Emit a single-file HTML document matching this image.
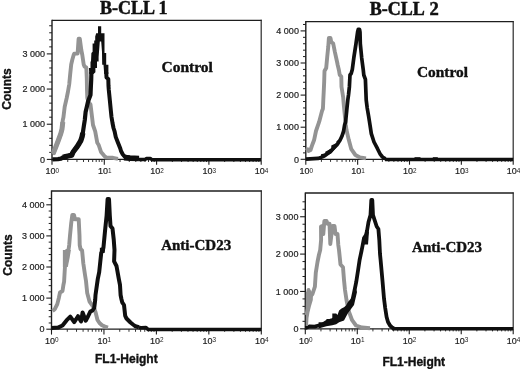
<!DOCTYPE html>
<html><head><meta charset="utf-8"><style>
html,body{margin:0;padding:0;background:#fff;width:520px;height:369px;overflow:hidden}
svg{display:block;will-change:transform}
.s{font-family:"Liberation Sans",sans-serif}
.r{font-family:"Liberation Serif",serif}
</style></head><body>
<svg width="520" height="369" viewBox="0 0 520 369">
<rect width="520" height="369" fill="#fff"/>
<g class="s">
<line x1="52.0" y1="20.3" x2="261.7" y2="20.3" stroke="#1e1e1e" stroke-width="1.3"/>
<line x1="261.2" y1="19.7" x2="261.2" y2="159.4" stroke="#2a2a2a" stroke-width="1.2"/>
<line x1="52.0" y1="19.7" x2="52.0" y2="160.4" stroke="#1e1e1e" stroke-width="1.4"/>
<line x1="52.0" y1="159.4" x2="261.2" y2="159.4" stroke="#1e1e1e" stroke-width="1.2"/>
<line x1="46.8" y1="159.40" x2="52.0" y2="159.40" stroke="#1e1e1e" stroke-width="1.1"/>
<text x="45.10" y="162.60" text-anchor="end" font-size="9" fill="#222" stroke="#222" stroke-width="0.2">0</text>
<line x1="49.2" y1="152.37" x2="52.0" y2="152.37" stroke="#1e1e1e" stroke-width="1"/>
<line x1="49.2" y1="145.33" x2="52.0" y2="145.33" stroke="#1e1e1e" stroke-width="1"/>
<line x1="49.2" y1="138.30" x2="52.0" y2="138.30" stroke="#1e1e1e" stroke-width="1"/>
<line x1="49.2" y1="131.26" x2="52.0" y2="131.26" stroke="#1e1e1e" stroke-width="1"/>
<line x1="46.8" y1="124.23" x2="52.0" y2="124.23" stroke="#1e1e1e" stroke-width="1.1"/>
<text x="45.10" y="127.43" text-anchor="end" font-size="9" fill="#222" stroke="#222" stroke-width="0.2">1 000</text>
<line x1="49.2" y1="117.20" x2="52.0" y2="117.20" stroke="#1e1e1e" stroke-width="1"/>
<line x1="49.2" y1="110.16" x2="52.0" y2="110.16" stroke="#1e1e1e" stroke-width="1"/>
<line x1="49.2" y1="103.13" x2="52.0" y2="103.13" stroke="#1e1e1e" stroke-width="1"/>
<line x1="49.2" y1="96.09" x2="52.0" y2="96.09" stroke="#1e1e1e" stroke-width="1"/>
<line x1="46.8" y1="89.06" x2="52.0" y2="89.06" stroke="#1e1e1e" stroke-width="1.1"/>
<text x="45.10" y="92.26" text-anchor="end" font-size="9" fill="#222" stroke="#222" stroke-width="0.2">2 000</text>
<line x1="49.2" y1="82.03" x2="52.0" y2="82.03" stroke="#1e1e1e" stroke-width="1"/>
<line x1="49.2" y1="74.99" x2="52.0" y2="74.99" stroke="#1e1e1e" stroke-width="1"/>
<line x1="49.2" y1="67.96" x2="52.0" y2="67.96" stroke="#1e1e1e" stroke-width="1"/>
<line x1="49.2" y1="60.92" x2="52.0" y2="60.92" stroke="#1e1e1e" stroke-width="1"/>
<line x1="46.8" y1="53.89" x2="52.0" y2="53.89" stroke="#1e1e1e" stroke-width="1.1"/>
<text x="45.10" y="57.09" text-anchor="end" font-size="9" fill="#222" stroke="#222" stroke-width="0.2">3 000</text>
<line x1="49.2" y1="46.86" x2="52.0" y2="46.86" stroke="#1e1e1e" stroke-width="1"/>
<line x1="49.2" y1="39.82" x2="52.0" y2="39.82" stroke="#1e1e1e" stroke-width="1"/>
<line x1="49.2" y1="32.79" x2="52.0" y2="32.79" stroke="#1e1e1e" stroke-width="1"/>
<line x1="49.2" y1="25.75" x2="52.0" y2="25.75" stroke="#1e1e1e" stroke-width="1"/>
<line x1="52.00" y1="159.4" x2="52.00" y2="164.8" stroke="#1e1e1e" stroke-width="1.1"/>
<text x="50.60" y="174.40" text-anchor="middle" font-size="9" fill="#222" stroke="#222" stroke-width="0.2">10</text>
<text x="55.60" y="172.60" font-size="6.4" fill="#222">0</text>
<line x1="67.74" y1="159.4" x2="67.74" y2="162.0" stroke="#1e1e1e" stroke-width="0.9"/>
<line x1="76.95" y1="159.4" x2="76.95" y2="162.0" stroke="#1e1e1e" stroke-width="0.9"/>
<line x1="83.49" y1="159.4" x2="83.49" y2="162.0" stroke="#1e1e1e" stroke-width="0.9"/>
<line x1="88.56" y1="159.4" x2="88.56" y2="162.0" stroke="#1e1e1e" stroke-width="0.9"/>
<line x1="92.70" y1="159.4" x2="92.70" y2="162.0" stroke="#1e1e1e" stroke-width="0.9"/>
<line x1="96.20" y1="159.4" x2="96.20" y2="162.0" stroke="#1e1e1e" stroke-width="0.9"/>
<line x1="99.23" y1="159.4" x2="99.23" y2="162.0" stroke="#1e1e1e" stroke-width="0.9"/>
<line x1="101.91" y1="159.4" x2="101.91" y2="162.0" stroke="#1e1e1e" stroke-width="0.9"/>
<line x1="104.30" y1="159.4" x2="104.30" y2="164.8" stroke="#1e1e1e" stroke-width="1.1"/>
<text x="102.90" y="174.40" text-anchor="middle" font-size="9" fill="#222" stroke="#222" stroke-width="0.2">10</text>
<text x="107.90" y="172.60" font-size="6.4" fill="#222">1</text>
<line x1="120.04" y1="159.4" x2="120.04" y2="162.0" stroke="#1e1e1e" stroke-width="0.9"/>
<line x1="129.25" y1="159.4" x2="129.25" y2="162.0" stroke="#1e1e1e" stroke-width="0.9"/>
<line x1="135.79" y1="159.4" x2="135.79" y2="162.0" stroke="#1e1e1e" stroke-width="0.9"/>
<line x1="140.86" y1="159.4" x2="140.86" y2="162.0" stroke="#1e1e1e" stroke-width="0.9"/>
<line x1="145.00" y1="159.4" x2="145.00" y2="162.0" stroke="#1e1e1e" stroke-width="0.9"/>
<line x1="148.50" y1="159.4" x2="148.50" y2="162.0" stroke="#1e1e1e" stroke-width="0.9"/>
<line x1="151.53" y1="159.4" x2="151.53" y2="162.0" stroke="#1e1e1e" stroke-width="0.9"/>
<line x1="154.21" y1="159.4" x2="154.21" y2="162.0" stroke="#1e1e1e" stroke-width="0.9"/>
<line x1="156.60" y1="159.4" x2="156.60" y2="164.8" stroke="#1e1e1e" stroke-width="1.1"/>
<text x="155.20" y="174.40" text-anchor="middle" font-size="9" fill="#222" stroke="#222" stroke-width="0.2">10</text>
<text x="160.20" y="172.60" font-size="6.4" fill="#222">2</text>
<line x1="172.34" y1="159.4" x2="172.34" y2="162.0" stroke="#1e1e1e" stroke-width="0.9"/>
<line x1="181.55" y1="159.4" x2="181.55" y2="162.0" stroke="#1e1e1e" stroke-width="0.9"/>
<line x1="188.09" y1="159.4" x2="188.09" y2="162.0" stroke="#1e1e1e" stroke-width="0.9"/>
<line x1="193.16" y1="159.4" x2="193.16" y2="162.0" stroke="#1e1e1e" stroke-width="0.9"/>
<line x1="197.30" y1="159.4" x2="197.30" y2="162.0" stroke="#1e1e1e" stroke-width="0.9"/>
<line x1="200.80" y1="159.4" x2="200.80" y2="162.0" stroke="#1e1e1e" stroke-width="0.9"/>
<line x1="203.83" y1="159.4" x2="203.83" y2="162.0" stroke="#1e1e1e" stroke-width="0.9"/>
<line x1="206.51" y1="159.4" x2="206.51" y2="162.0" stroke="#1e1e1e" stroke-width="0.9"/>
<line x1="208.90" y1="159.4" x2="208.90" y2="164.8" stroke="#1e1e1e" stroke-width="1.1"/>
<text x="207.50" y="174.40" text-anchor="middle" font-size="9" fill="#222" stroke="#222" stroke-width="0.2">10</text>
<text x="212.50" y="172.60" font-size="6.4" fill="#222">3</text>
<line x1="224.64" y1="159.4" x2="224.64" y2="162.0" stroke="#1e1e1e" stroke-width="0.9"/>
<line x1="233.85" y1="159.4" x2="233.85" y2="162.0" stroke="#1e1e1e" stroke-width="0.9"/>
<line x1="240.39" y1="159.4" x2="240.39" y2="162.0" stroke="#1e1e1e" stroke-width="0.9"/>
<line x1="245.46" y1="159.4" x2="245.46" y2="162.0" stroke="#1e1e1e" stroke-width="0.9"/>
<line x1="249.60" y1="159.4" x2="249.60" y2="162.0" stroke="#1e1e1e" stroke-width="0.9"/>
<line x1="253.10" y1="159.4" x2="253.10" y2="162.0" stroke="#1e1e1e" stroke-width="0.9"/>
<line x1="256.13" y1="159.4" x2="256.13" y2="162.0" stroke="#1e1e1e" stroke-width="0.9"/>
<line x1="258.81" y1="159.4" x2="258.81" y2="162.0" stroke="#1e1e1e" stroke-width="0.9"/>
<line x1="261.20" y1="159.4" x2="261.20" y2="164.8" stroke="#1e1e1e" stroke-width="1.1"/>
<text x="259.80" y="174.40" text-anchor="middle" font-size="9" fill="#222" stroke="#222" stroke-width="0.2">10</text>
<text x="264.80" y="172.60" font-size="6.4" fill="#222">4</text>
<line x1="305.8" y1="21.6" x2="513.7" y2="21.6" stroke="#1e1e1e" stroke-width="1.3"/>
<line x1="513.2" y1="21.0" x2="513.2" y2="159.3" stroke="#2a2a2a" stroke-width="1.2"/>
<line x1="305.8" y1="21.0" x2="305.8" y2="160.3" stroke="#1e1e1e" stroke-width="1.4"/>
<line x1="305.8" y1="159.3" x2="513.2" y2="159.3" stroke="#1e1e1e" stroke-width="1.2"/>
<line x1="300.6" y1="159.30" x2="305.8" y2="159.30" stroke="#1e1e1e" stroke-width="1.1"/>
<text x="298.90" y="162.50" text-anchor="end" font-size="9" fill="#222" stroke="#222" stroke-width="0.2">0</text>
<line x1="303.0" y1="152.88" x2="305.8" y2="152.88" stroke="#1e1e1e" stroke-width="1"/>
<line x1="303.0" y1="146.46" x2="305.8" y2="146.46" stroke="#1e1e1e" stroke-width="1"/>
<line x1="303.0" y1="140.04" x2="305.8" y2="140.04" stroke="#1e1e1e" stroke-width="1"/>
<line x1="303.0" y1="133.62" x2="305.8" y2="133.62" stroke="#1e1e1e" stroke-width="1"/>
<line x1="300.6" y1="127.20" x2="305.8" y2="127.20" stroke="#1e1e1e" stroke-width="1.1"/>
<text x="298.90" y="130.40" text-anchor="end" font-size="9" fill="#222" stroke="#222" stroke-width="0.2">1 000</text>
<line x1="303.0" y1="120.78" x2="305.8" y2="120.78" stroke="#1e1e1e" stroke-width="1"/>
<line x1="303.0" y1="114.36" x2="305.8" y2="114.36" stroke="#1e1e1e" stroke-width="1"/>
<line x1="303.0" y1="107.94" x2="305.8" y2="107.94" stroke="#1e1e1e" stroke-width="1"/>
<line x1="303.0" y1="101.52" x2="305.8" y2="101.52" stroke="#1e1e1e" stroke-width="1"/>
<line x1="300.6" y1="95.10" x2="305.8" y2="95.10" stroke="#1e1e1e" stroke-width="1.1"/>
<text x="298.90" y="98.30" text-anchor="end" font-size="9" fill="#222" stroke="#222" stroke-width="0.2">2 000</text>
<line x1="303.0" y1="88.68" x2="305.8" y2="88.68" stroke="#1e1e1e" stroke-width="1"/>
<line x1="303.0" y1="82.26" x2="305.8" y2="82.26" stroke="#1e1e1e" stroke-width="1"/>
<line x1="303.0" y1="75.84" x2="305.8" y2="75.84" stroke="#1e1e1e" stroke-width="1"/>
<line x1="303.0" y1="69.42" x2="305.8" y2="69.42" stroke="#1e1e1e" stroke-width="1"/>
<line x1="300.6" y1="63.00" x2="305.8" y2="63.00" stroke="#1e1e1e" stroke-width="1.1"/>
<text x="298.90" y="66.20" text-anchor="end" font-size="9" fill="#222" stroke="#222" stroke-width="0.2">3 000</text>
<line x1="303.0" y1="56.58" x2="305.8" y2="56.58" stroke="#1e1e1e" stroke-width="1"/>
<line x1="303.0" y1="50.16" x2="305.8" y2="50.16" stroke="#1e1e1e" stroke-width="1"/>
<line x1="303.0" y1="43.74" x2="305.8" y2="43.74" stroke="#1e1e1e" stroke-width="1"/>
<line x1="303.0" y1="37.32" x2="305.8" y2="37.32" stroke="#1e1e1e" stroke-width="1"/>
<line x1="300.6" y1="30.90" x2="305.8" y2="30.90" stroke="#1e1e1e" stroke-width="1.1"/>
<text x="298.90" y="34.10" text-anchor="end" font-size="9" fill="#222" stroke="#222" stroke-width="0.2">4 000</text>
<line x1="303.0" y1="24.48" x2="305.8" y2="24.48" stroke="#1e1e1e" stroke-width="1"/>
<line x1="305.80" y1="159.3" x2="305.80" y2="164.70000000000002" stroke="#1e1e1e" stroke-width="1.1"/>
<text x="304.40" y="174.30" text-anchor="middle" font-size="9" fill="#222" stroke="#222" stroke-width="0.2">10</text>
<text x="309.40" y="172.50" font-size="6.4" fill="#222">0</text>
<line x1="321.41" y1="159.3" x2="321.41" y2="161.9" stroke="#1e1e1e" stroke-width="0.9"/>
<line x1="330.54" y1="159.3" x2="330.54" y2="161.9" stroke="#1e1e1e" stroke-width="0.9"/>
<line x1="337.02" y1="159.3" x2="337.02" y2="161.9" stroke="#1e1e1e" stroke-width="0.9"/>
<line x1="342.04" y1="159.3" x2="342.04" y2="161.9" stroke="#1e1e1e" stroke-width="0.9"/>
<line x1="346.15" y1="159.3" x2="346.15" y2="161.9" stroke="#1e1e1e" stroke-width="0.9"/>
<line x1="349.62" y1="159.3" x2="349.62" y2="161.9" stroke="#1e1e1e" stroke-width="0.9"/>
<line x1="352.63" y1="159.3" x2="352.63" y2="161.9" stroke="#1e1e1e" stroke-width="0.9"/>
<line x1="355.28" y1="159.3" x2="355.28" y2="161.9" stroke="#1e1e1e" stroke-width="0.9"/>
<line x1="357.65" y1="159.3" x2="357.65" y2="164.70000000000002" stroke="#1e1e1e" stroke-width="1.1"/>
<text x="356.25" y="174.30" text-anchor="middle" font-size="9" fill="#222" stroke="#222" stroke-width="0.2">10</text>
<text x="361.25" y="172.50" font-size="6.4" fill="#222">1</text>
<line x1="373.26" y1="159.3" x2="373.26" y2="161.9" stroke="#1e1e1e" stroke-width="0.9"/>
<line x1="382.39" y1="159.3" x2="382.39" y2="161.9" stroke="#1e1e1e" stroke-width="0.9"/>
<line x1="388.87" y1="159.3" x2="388.87" y2="161.9" stroke="#1e1e1e" stroke-width="0.9"/>
<line x1="393.89" y1="159.3" x2="393.89" y2="161.9" stroke="#1e1e1e" stroke-width="0.9"/>
<line x1="398.00" y1="159.3" x2="398.00" y2="161.9" stroke="#1e1e1e" stroke-width="0.9"/>
<line x1="401.47" y1="159.3" x2="401.47" y2="161.9" stroke="#1e1e1e" stroke-width="0.9"/>
<line x1="404.48" y1="159.3" x2="404.48" y2="161.9" stroke="#1e1e1e" stroke-width="0.9"/>
<line x1="407.13" y1="159.3" x2="407.13" y2="161.9" stroke="#1e1e1e" stroke-width="0.9"/>
<line x1="409.50" y1="159.3" x2="409.50" y2="164.70000000000002" stroke="#1e1e1e" stroke-width="1.1"/>
<text x="408.10" y="174.30" text-anchor="middle" font-size="9" fill="#222" stroke="#222" stroke-width="0.2">10</text>
<text x="413.10" y="172.50" font-size="6.4" fill="#222">2</text>
<line x1="425.11" y1="159.3" x2="425.11" y2="161.9" stroke="#1e1e1e" stroke-width="0.9"/>
<line x1="434.24" y1="159.3" x2="434.24" y2="161.9" stroke="#1e1e1e" stroke-width="0.9"/>
<line x1="440.72" y1="159.3" x2="440.72" y2="161.9" stroke="#1e1e1e" stroke-width="0.9"/>
<line x1="445.74" y1="159.3" x2="445.74" y2="161.9" stroke="#1e1e1e" stroke-width="0.9"/>
<line x1="449.85" y1="159.3" x2="449.85" y2="161.9" stroke="#1e1e1e" stroke-width="0.9"/>
<line x1="453.32" y1="159.3" x2="453.32" y2="161.9" stroke="#1e1e1e" stroke-width="0.9"/>
<line x1="456.33" y1="159.3" x2="456.33" y2="161.9" stroke="#1e1e1e" stroke-width="0.9"/>
<line x1="458.98" y1="159.3" x2="458.98" y2="161.9" stroke="#1e1e1e" stroke-width="0.9"/>
<line x1="461.35" y1="159.3" x2="461.35" y2="164.70000000000002" stroke="#1e1e1e" stroke-width="1.1"/>
<text x="459.95" y="174.30" text-anchor="middle" font-size="9" fill="#222" stroke="#222" stroke-width="0.2">10</text>
<text x="464.95" y="172.50" font-size="6.4" fill="#222">3</text>
<line x1="476.96" y1="159.3" x2="476.96" y2="161.9" stroke="#1e1e1e" stroke-width="0.9"/>
<line x1="486.09" y1="159.3" x2="486.09" y2="161.9" stroke="#1e1e1e" stroke-width="0.9"/>
<line x1="492.57" y1="159.3" x2="492.57" y2="161.9" stroke="#1e1e1e" stroke-width="0.9"/>
<line x1="497.59" y1="159.3" x2="497.59" y2="161.9" stroke="#1e1e1e" stroke-width="0.9"/>
<line x1="501.70" y1="159.3" x2="501.70" y2="161.9" stroke="#1e1e1e" stroke-width="0.9"/>
<line x1="505.17" y1="159.3" x2="505.17" y2="161.9" stroke="#1e1e1e" stroke-width="0.9"/>
<line x1="508.18" y1="159.3" x2="508.18" y2="161.9" stroke="#1e1e1e" stroke-width="0.9"/>
<line x1="510.83" y1="159.3" x2="510.83" y2="161.9" stroke="#1e1e1e" stroke-width="0.9"/>
<line x1="513.20" y1="159.3" x2="513.20" y2="164.70000000000002" stroke="#1e1e1e" stroke-width="1.1"/>
<text x="511.80" y="174.30" text-anchor="middle" font-size="9" fill="#222" stroke="#222" stroke-width="0.2">10</text>
<text x="516.80" y="172.50" font-size="6.4" fill="#222">4</text>
<line x1="51.5" y1="191.0" x2="261.8" y2="191.0" stroke="#1e1e1e" stroke-width="1.3"/>
<line x1="261.3" y1="190.4" x2="261.3" y2="329.2" stroke="#2a2a2a" stroke-width="1.2"/>
<line x1="51.5" y1="190.4" x2="51.5" y2="330.2" stroke="#1e1e1e" stroke-width="1.4"/>
<line x1="51.5" y1="329.2" x2="261.3" y2="329.2" stroke="#1e1e1e" stroke-width="1.2"/>
<line x1="46.3" y1="329.20" x2="51.5" y2="329.20" stroke="#1e1e1e" stroke-width="1.1"/>
<text x="44.60" y="332.40" text-anchor="end" font-size="9" fill="#222" stroke="#222" stroke-width="0.2">0</text>
<line x1="48.7" y1="322.98" x2="51.5" y2="322.98" stroke="#1e1e1e" stroke-width="1"/>
<line x1="48.7" y1="316.76" x2="51.5" y2="316.76" stroke="#1e1e1e" stroke-width="1"/>
<line x1="48.7" y1="310.54" x2="51.5" y2="310.54" stroke="#1e1e1e" stroke-width="1"/>
<line x1="48.7" y1="304.32" x2="51.5" y2="304.32" stroke="#1e1e1e" stroke-width="1"/>
<line x1="46.3" y1="298.10" x2="51.5" y2="298.10" stroke="#1e1e1e" stroke-width="1.1"/>
<text x="44.60" y="301.30" text-anchor="end" font-size="9" fill="#222" stroke="#222" stroke-width="0.2">1 000</text>
<line x1="48.7" y1="291.88" x2="51.5" y2="291.88" stroke="#1e1e1e" stroke-width="1"/>
<line x1="48.7" y1="285.66" x2="51.5" y2="285.66" stroke="#1e1e1e" stroke-width="1"/>
<line x1="48.7" y1="279.44" x2="51.5" y2="279.44" stroke="#1e1e1e" stroke-width="1"/>
<line x1="48.7" y1="273.22" x2="51.5" y2="273.22" stroke="#1e1e1e" stroke-width="1"/>
<line x1="46.3" y1="267.00" x2="51.5" y2="267.00" stroke="#1e1e1e" stroke-width="1.1"/>
<text x="44.60" y="270.20" text-anchor="end" font-size="9" fill="#222" stroke="#222" stroke-width="0.2">2 000</text>
<line x1="48.7" y1="260.78" x2="51.5" y2="260.78" stroke="#1e1e1e" stroke-width="1"/>
<line x1="48.7" y1="254.56" x2="51.5" y2="254.56" stroke="#1e1e1e" stroke-width="1"/>
<line x1="48.7" y1="248.34" x2="51.5" y2="248.34" stroke="#1e1e1e" stroke-width="1"/>
<line x1="48.7" y1="242.12" x2="51.5" y2="242.12" stroke="#1e1e1e" stroke-width="1"/>
<line x1="46.3" y1="235.90" x2="51.5" y2="235.90" stroke="#1e1e1e" stroke-width="1.1"/>
<text x="44.60" y="239.10" text-anchor="end" font-size="9" fill="#222" stroke="#222" stroke-width="0.2">3 000</text>
<line x1="48.7" y1="229.68" x2="51.5" y2="229.68" stroke="#1e1e1e" stroke-width="1"/>
<line x1="48.7" y1="223.46" x2="51.5" y2="223.46" stroke="#1e1e1e" stroke-width="1"/>
<line x1="48.7" y1="217.24" x2="51.5" y2="217.24" stroke="#1e1e1e" stroke-width="1"/>
<line x1="48.7" y1="211.02" x2="51.5" y2="211.02" stroke="#1e1e1e" stroke-width="1"/>
<line x1="46.3" y1="204.80" x2="51.5" y2="204.80" stroke="#1e1e1e" stroke-width="1.1"/>
<text x="44.60" y="208.00" text-anchor="end" font-size="9" fill="#222" stroke="#222" stroke-width="0.2">4 000</text>
<line x1="48.7" y1="198.58" x2="51.5" y2="198.58" stroke="#1e1e1e" stroke-width="1"/>
<line x1="51.50" y1="329.2" x2="51.50" y2="334.59999999999997" stroke="#1e1e1e" stroke-width="1.1"/>
<text x="50.10" y="344.20" text-anchor="middle" font-size="9" fill="#222" stroke="#222" stroke-width="0.2">10</text>
<text x="55.10" y="342.40" font-size="6.4" fill="#222">0</text>
<line x1="67.29" y1="329.2" x2="67.29" y2="331.8" stroke="#1e1e1e" stroke-width="0.9"/>
<line x1="76.53" y1="329.2" x2="76.53" y2="331.8" stroke="#1e1e1e" stroke-width="0.9"/>
<line x1="83.08" y1="329.2" x2="83.08" y2="331.8" stroke="#1e1e1e" stroke-width="0.9"/>
<line x1="88.16" y1="329.2" x2="88.16" y2="331.8" stroke="#1e1e1e" stroke-width="0.9"/>
<line x1="92.31" y1="329.2" x2="92.31" y2="331.8" stroke="#1e1e1e" stroke-width="0.9"/>
<line x1="95.83" y1="329.2" x2="95.83" y2="331.8" stroke="#1e1e1e" stroke-width="0.9"/>
<line x1="98.87" y1="329.2" x2="98.87" y2="331.8" stroke="#1e1e1e" stroke-width="0.9"/>
<line x1="101.55" y1="329.2" x2="101.55" y2="331.8" stroke="#1e1e1e" stroke-width="0.9"/>
<line x1="103.95" y1="329.2" x2="103.95" y2="334.59999999999997" stroke="#1e1e1e" stroke-width="1.1"/>
<text x="102.55" y="344.20" text-anchor="middle" font-size="9" fill="#222" stroke="#222" stroke-width="0.2">10</text>
<text x="107.55" y="342.40" font-size="6.4" fill="#222">1</text>
<line x1="119.74" y1="329.2" x2="119.74" y2="331.8" stroke="#1e1e1e" stroke-width="0.9"/>
<line x1="128.98" y1="329.2" x2="128.98" y2="331.8" stroke="#1e1e1e" stroke-width="0.9"/>
<line x1="135.53" y1="329.2" x2="135.53" y2="331.8" stroke="#1e1e1e" stroke-width="0.9"/>
<line x1="140.61" y1="329.2" x2="140.61" y2="331.8" stroke="#1e1e1e" stroke-width="0.9"/>
<line x1="144.76" y1="329.2" x2="144.76" y2="331.8" stroke="#1e1e1e" stroke-width="0.9"/>
<line x1="148.28" y1="329.2" x2="148.28" y2="331.8" stroke="#1e1e1e" stroke-width="0.9"/>
<line x1="151.32" y1="329.2" x2="151.32" y2="331.8" stroke="#1e1e1e" stroke-width="0.9"/>
<line x1="154.00" y1="329.2" x2="154.00" y2="331.8" stroke="#1e1e1e" stroke-width="0.9"/>
<line x1="156.40" y1="329.2" x2="156.40" y2="334.59999999999997" stroke="#1e1e1e" stroke-width="1.1"/>
<text x="155.00" y="344.20" text-anchor="middle" font-size="9" fill="#222" stroke="#222" stroke-width="0.2">10</text>
<text x="160.00" y="342.40" font-size="6.4" fill="#222">2</text>
<line x1="172.19" y1="329.2" x2="172.19" y2="331.8" stroke="#1e1e1e" stroke-width="0.9"/>
<line x1="181.43" y1="329.2" x2="181.43" y2="331.8" stroke="#1e1e1e" stroke-width="0.9"/>
<line x1="187.98" y1="329.2" x2="187.98" y2="331.8" stroke="#1e1e1e" stroke-width="0.9"/>
<line x1="193.06" y1="329.2" x2="193.06" y2="331.8" stroke="#1e1e1e" stroke-width="0.9"/>
<line x1="197.21" y1="329.2" x2="197.21" y2="331.8" stroke="#1e1e1e" stroke-width="0.9"/>
<line x1="200.73" y1="329.2" x2="200.73" y2="331.8" stroke="#1e1e1e" stroke-width="0.9"/>
<line x1="203.77" y1="329.2" x2="203.77" y2="331.8" stroke="#1e1e1e" stroke-width="0.9"/>
<line x1="206.45" y1="329.2" x2="206.45" y2="331.8" stroke="#1e1e1e" stroke-width="0.9"/>
<line x1="208.85" y1="329.2" x2="208.85" y2="334.59999999999997" stroke="#1e1e1e" stroke-width="1.1"/>
<text x="207.45" y="344.20" text-anchor="middle" font-size="9" fill="#222" stroke="#222" stroke-width="0.2">10</text>
<text x="212.45" y="342.40" font-size="6.4" fill="#222">3</text>
<line x1="224.64" y1="329.2" x2="224.64" y2="331.8" stroke="#1e1e1e" stroke-width="0.9"/>
<line x1="233.88" y1="329.2" x2="233.88" y2="331.8" stroke="#1e1e1e" stroke-width="0.9"/>
<line x1="240.43" y1="329.2" x2="240.43" y2="331.8" stroke="#1e1e1e" stroke-width="0.9"/>
<line x1="245.51" y1="329.2" x2="245.51" y2="331.8" stroke="#1e1e1e" stroke-width="0.9"/>
<line x1="249.66" y1="329.2" x2="249.66" y2="331.8" stroke="#1e1e1e" stroke-width="0.9"/>
<line x1="253.18" y1="329.2" x2="253.18" y2="331.8" stroke="#1e1e1e" stroke-width="0.9"/>
<line x1="256.22" y1="329.2" x2="256.22" y2="331.8" stroke="#1e1e1e" stroke-width="0.9"/>
<line x1="258.90" y1="329.2" x2="258.90" y2="331.8" stroke="#1e1e1e" stroke-width="0.9"/>
<line x1="261.30" y1="329.2" x2="261.30" y2="334.59999999999997" stroke="#1e1e1e" stroke-width="1.1"/>
<text x="259.90" y="344.20" text-anchor="middle" font-size="9" fill="#222" stroke="#222" stroke-width="0.2">10</text>
<text x="264.90" y="342.40" font-size="6.4" fill="#222">4</text>
<line x1="305.3" y1="193.0" x2="513.7" y2="193.0" stroke="#1e1e1e" stroke-width="1.3"/>
<line x1="513.2" y1="192.4" x2="513.2" y2="328.8" stroke="#2a2a2a" stroke-width="1.2"/>
<line x1="305.3" y1="192.4" x2="305.3" y2="329.8" stroke="#1e1e1e" stroke-width="1.4"/>
<line x1="305.3" y1="328.8" x2="513.2" y2="328.8" stroke="#1e1e1e" stroke-width="1.2"/>
<line x1="300.1" y1="328.80" x2="305.3" y2="328.80" stroke="#1e1e1e" stroke-width="1.1"/>
<text x="298.40" y="332.00" text-anchor="end" font-size="9" fill="#222" stroke="#222" stroke-width="0.2">0</text>
<line x1="302.5" y1="321.33" x2="305.3" y2="321.33" stroke="#1e1e1e" stroke-width="1"/>
<line x1="302.5" y1="313.86" x2="305.3" y2="313.86" stroke="#1e1e1e" stroke-width="1"/>
<line x1="302.5" y1="306.39" x2="305.3" y2="306.39" stroke="#1e1e1e" stroke-width="1"/>
<line x1="302.5" y1="298.92" x2="305.3" y2="298.92" stroke="#1e1e1e" stroke-width="1"/>
<line x1="300.1" y1="291.45" x2="305.3" y2="291.45" stroke="#1e1e1e" stroke-width="1.1"/>
<text x="298.40" y="294.65" text-anchor="end" font-size="9" fill="#222" stroke="#222" stroke-width="0.2">1 000</text>
<line x1="302.5" y1="283.98" x2="305.3" y2="283.98" stroke="#1e1e1e" stroke-width="1"/>
<line x1="302.5" y1="276.51" x2="305.3" y2="276.51" stroke="#1e1e1e" stroke-width="1"/>
<line x1="302.5" y1="269.04" x2="305.3" y2="269.04" stroke="#1e1e1e" stroke-width="1"/>
<line x1="302.5" y1="261.57" x2="305.3" y2="261.57" stroke="#1e1e1e" stroke-width="1"/>
<line x1="300.1" y1="254.10" x2="305.3" y2="254.10" stroke="#1e1e1e" stroke-width="1.1"/>
<text x="298.40" y="257.30" text-anchor="end" font-size="9" fill="#222" stroke="#222" stroke-width="0.2">2 000</text>
<line x1="302.5" y1="246.63" x2="305.3" y2="246.63" stroke="#1e1e1e" stroke-width="1"/>
<line x1="302.5" y1="239.16" x2="305.3" y2="239.16" stroke="#1e1e1e" stroke-width="1"/>
<line x1="302.5" y1="231.69" x2="305.3" y2="231.69" stroke="#1e1e1e" stroke-width="1"/>
<line x1="302.5" y1="224.22" x2="305.3" y2="224.22" stroke="#1e1e1e" stroke-width="1"/>
<line x1="300.1" y1="216.75" x2="305.3" y2="216.75" stroke="#1e1e1e" stroke-width="1.1"/>
<text x="298.40" y="219.95" text-anchor="end" font-size="9" fill="#222" stroke="#222" stroke-width="0.2">3 000</text>
<line x1="302.5" y1="209.28" x2="305.3" y2="209.28" stroke="#1e1e1e" stroke-width="1"/>
<line x1="302.5" y1="201.81" x2="305.3" y2="201.81" stroke="#1e1e1e" stroke-width="1"/>
<line x1="305.30" y1="328.8" x2="305.30" y2="334.2" stroke="#1e1e1e" stroke-width="1.1"/>
<text x="303.90" y="343.80" text-anchor="middle" font-size="9" fill="#222" stroke="#222" stroke-width="0.2">10</text>
<text x="308.90" y="342.00" font-size="6.4" fill="#222">0</text>
<line x1="320.95" y1="328.8" x2="320.95" y2="331.40000000000003" stroke="#1e1e1e" stroke-width="0.9"/>
<line x1="330.10" y1="328.8" x2="330.10" y2="331.40000000000003" stroke="#1e1e1e" stroke-width="0.9"/>
<line x1="336.59" y1="328.8" x2="336.59" y2="331.40000000000003" stroke="#1e1e1e" stroke-width="0.9"/>
<line x1="341.63" y1="328.8" x2="341.63" y2="331.40000000000003" stroke="#1e1e1e" stroke-width="0.9"/>
<line x1="345.74" y1="328.8" x2="345.74" y2="331.40000000000003" stroke="#1e1e1e" stroke-width="0.9"/>
<line x1="349.22" y1="328.8" x2="349.22" y2="331.40000000000003" stroke="#1e1e1e" stroke-width="0.9"/>
<line x1="352.24" y1="328.8" x2="352.24" y2="331.40000000000003" stroke="#1e1e1e" stroke-width="0.9"/>
<line x1="354.90" y1="328.8" x2="354.90" y2="331.40000000000003" stroke="#1e1e1e" stroke-width="0.9"/>
<line x1="357.28" y1="328.8" x2="357.28" y2="334.2" stroke="#1e1e1e" stroke-width="1.1"/>
<text x="355.88" y="343.80" text-anchor="middle" font-size="9" fill="#222" stroke="#222" stroke-width="0.2">10</text>
<text x="360.88" y="342.00" font-size="6.4" fill="#222">1</text>
<line x1="372.92" y1="328.8" x2="372.92" y2="331.40000000000003" stroke="#1e1e1e" stroke-width="0.9"/>
<line x1="382.07" y1="328.8" x2="382.07" y2="331.40000000000003" stroke="#1e1e1e" stroke-width="0.9"/>
<line x1="388.57" y1="328.8" x2="388.57" y2="331.40000000000003" stroke="#1e1e1e" stroke-width="0.9"/>
<line x1="393.60" y1="328.8" x2="393.60" y2="331.40000000000003" stroke="#1e1e1e" stroke-width="0.9"/>
<line x1="397.72" y1="328.8" x2="397.72" y2="331.40000000000003" stroke="#1e1e1e" stroke-width="0.9"/>
<line x1="401.20" y1="328.8" x2="401.20" y2="331.40000000000003" stroke="#1e1e1e" stroke-width="0.9"/>
<line x1="404.21" y1="328.8" x2="404.21" y2="331.40000000000003" stroke="#1e1e1e" stroke-width="0.9"/>
<line x1="406.87" y1="328.8" x2="406.87" y2="331.40000000000003" stroke="#1e1e1e" stroke-width="0.9"/>
<line x1="409.25" y1="328.8" x2="409.25" y2="334.2" stroke="#1e1e1e" stroke-width="1.1"/>
<text x="407.85" y="343.80" text-anchor="middle" font-size="9" fill="#222" stroke="#222" stroke-width="0.2">10</text>
<text x="412.85" y="342.00" font-size="6.4" fill="#222">2</text>
<line x1="424.90" y1="328.8" x2="424.90" y2="331.40000000000003" stroke="#1e1e1e" stroke-width="0.9"/>
<line x1="434.05" y1="328.8" x2="434.05" y2="331.40000000000003" stroke="#1e1e1e" stroke-width="0.9"/>
<line x1="440.54" y1="328.8" x2="440.54" y2="331.40000000000003" stroke="#1e1e1e" stroke-width="0.9"/>
<line x1="445.58" y1="328.8" x2="445.58" y2="331.40000000000003" stroke="#1e1e1e" stroke-width="0.9"/>
<line x1="449.69" y1="328.8" x2="449.69" y2="331.40000000000003" stroke="#1e1e1e" stroke-width="0.9"/>
<line x1="453.17" y1="328.8" x2="453.17" y2="331.40000000000003" stroke="#1e1e1e" stroke-width="0.9"/>
<line x1="456.19" y1="328.8" x2="456.19" y2="331.40000000000003" stroke="#1e1e1e" stroke-width="0.9"/>
<line x1="458.85" y1="328.8" x2="458.85" y2="331.40000000000003" stroke="#1e1e1e" stroke-width="0.9"/>
<line x1="461.23" y1="328.8" x2="461.23" y2="334.2" stroke="#1e1e1e" stroke-width="1.1"/>
<text x="459.83" y="343.80" text-anchor="middle" font-size="9" fill="#222" stroke="#222" stroke-width="0.2">10</text>
<text x="464.83" y="342.00" font-size="6.4" fill="#222">3</text>
<line x1="476.87" y1="328.8" x2="476.87" y2="331.40000000000003" stroke="#1e1e1e" stroke-width="0.9"/>
<line x1="486.02" y1="328.8" x2="486.02" y2="331.40000000000003" stroke="#1e1e1e" stroke-width="0.9"/>
<line x1="492.52" y1="328.8" x2="492.52" y2="331.40000000000003" stroke="#1e1e1e" stroke-width="0.9"/>
<line x1="497.55" y1="328.8" x2="497.55" y2="331.40000000000003" stroke="#1e1e1e" stroke-width="0.9"/>
<line x1="501.67" y1="328.8" x2="501.67" y2="331.40000000000003" stroke="#1e1e1e" stroke-width="0.9"/>
<line x1="505.15" y1="328.8" x2="505.15" y2="331.40000000000003" stroke="#1e1e1e" stroke-width="0.9"/>
<line x1="508.16" y1="328.8" x2="508.16" y2="331.40000000000003" stroke="#1e1e1e" stroke-width="0.9"/>
<line x1="510.82" y1="328.8" x2="510.82" y2="331.40000000000003" stroke="#1e1e1e" stroke-width="0.9"/>
<line x1="513.20" y1="328.8" x2="513.20" y2="334.2" stroke="#1e1e1e" stroke-width="1.1"/>
<text x="511.80" y="343.80" text-anchor="middle" font-size="9" fill="#222" stroke="#222" stroke-width="0.2">10</text>
<text x="516.80" y="342.00" font-size="6.4" fill="#222">4</text>
<polyline points="52.8,154 53.4,153 55.7,147.3 58.3,140.5 60.8,133.7 62,129.1 62.8,122" fill="none" stroke="#939393" stroke-width="5.0" stroke-linejoin="round"/>
<polyline points="52.5,153.5 53.4,153 55.7,147.3 58.3,140.5 60.8,133.7 62,129.1 62.8,120 63.4,117.5 64.7,106.7 66.7,98 68,91.5 69.1,85 69.3,83.5 70.2,74 71.2,64.5 72.3,59.7 73.5,55.5 74.2,53.6 77.6,53.6 78.6,38.8 79.8,38.8 81.3,50 82.3,55 83.7,64.5 84.5,66.5 86.3,67.5 86.8,78.7 87,90 87.3,98 88.5,102 90.5,104.5 92.1,117.5 93,125 95.2,131.4 97.3,142.8 98.7,145 101,151.9 103.8,155.3 106,157.5 113,157.8 118,158.8" fill="none" stroke="#939393" stroke-width="3.9" stroke-linejoin="round"/>
<polyline points="52.5,159.3 58,159.1 61,158.6 63,157.4 65.6,156.6 68,156 71.7,155.2 72.6,153 73.5,151.5 75,149.5 77,146.9 79,143.8 80.8,140.6 82,137 82.8,133 84,125 84.8,120 85.6,112.1 86.8,107 88.1,101.3 90.5,95 90.8,88 91.2,80 91.4,72" fill="none" stroke="#0f0f0f" stroke-width="4.2" stroke-linejoin="round"/>
<polyline points="63,157.4 65.6,156.6 68,156 71.7,155.2 72.6,153 73.5,151.5 75,149.5 77,146.9 79,143.8 80.8,140.6 82,137 82.8,133" fill="none" stroke="#0f0f0f" stroke-width="5.3" stroke-linejoin="round"/>
<polyline points="106.2,72 106.5,77.5 108.3,79 108.5,86 108.8,90 109.8,100 110.8,110.3 111.5,117 112.5,123 113.5,128 114.6,131.4 115.8,137.1 118,142.8 120.3,148.5 121,151 122.7,154.2 124.6,156.5 130,158 139,158.4" fill="none" stroke="#0f0f0f" stroke-width="4.0" stroke-linejoin="round"/>
<polyline points="124,157.6 130,158.1 139,158.5" fill="none" stroke="#0f0f0f" stroke-width="5.6" stroke-linejoin="round"/>
<polyline points="139,159.4 145,159.4 146.5,158.5 150.5,158.5 152,159.8 261,159.8" fill="none" stroke="#0f0f0f" stroke-width="3.5" stroke-linejoin="round"/>
<polygon points="98,26.3 98,33.3 96.2,33.3 95.2,36.4 95.2,40.5 94.2,40.5 94.2,43.6 92.6,43.6 92.6,51.8 91.4,53 91,61.5 90.5,61.5 90.5,68 88.9,68 89.3,74 93.6,74 95.4,72.3 95.4,68 97,68 97,61.5 98.6,61.5 98.6,57 99.8,41.5 101.2,41.5 102,52 102.2,64.8 103.5,64.8 104.2,74 108.4,74 108.4,64.8 106.2,64.8 106.2,52.9 104.5,52.9 104.5,33.3 101.2,33.3 101.2,26.3" fill="#0f0f0f"/>
<polyline points="306.5,148 308.5,151 310.5,150 312.5,144.2 314.2,139.7 316,131 319.2,121.7 322,111 322.9,108.7 323.1,105 323.3,100 323.7,92.1 324.2,81.3 324.5,71 326.2,68 327.2,57.1 328.3,46.3 328.9,38 330.5,38 331.2,41.9 333.2,43.5 334.8,51.7 337.2,62.5 337.7,65 338.9,70 339.7,74.8 341.3,76.5 341.5,86.7 343.2,97.5 343.8,105 344.8,115 345.8,125 346.5,130 348.7,139.6 351.3,149.2 355.4,155 360,157.4 366,158.4" fill="none" stroke="#939393" stroke-width="3.9" stroke-linejoin="round"/>
<polyline points="306,159.2 314,158.7 318,158.4 321,157.4 323,156.5 325.3,155.3 328,153.2 331.3,150.5 334,147.8 336.5,145.3 338,143.3 340,140.3 342,136 343.6,131 344.6,125 345.6,121.7 346.7,110.8 347.8,100 348.5,95 349.4,86.7 350,75 351.2,73.5 352.3,69.4 353.8,57.9 356,43.6 357.6,32 358.3,29.3 359.5,29.3 360,32 360.3,43.6 361.7,57.9 363.2,69.4 363.8,75 365.4,79.4 366.2,100 367.2,108 368.7,116.8 370,125 371.3,133.6 374,142 377.5,148.7 380,153.8 382.5,157 385.5,158.8" fill="none" stroke="#0f0f0f" stroke-width="3.7" stroke-linejoin="round"/>
<polyline points="385,159.5 513.2,159.5" fill="none" stroke="#0f0f0f" stroke-width="3.6" stroke-linejoin="round"/>
<polyline points="414.5,158.6 420.5,158.6" fill="none" stroke="#0f0f0f" stroke-width="2.8" stroke-linejoin="round"/>
<polyline points="432.8,158.6 437.8,158.6" fill="none" stroke="#0f0f0f" stroke-width="2.8" stroke-linejoin="round"/>
<polygon points="321,154.3 325.3,153.3 325.3,151.7 331.3,148.6 331.3,145.6 336.5,143 336.5,141.3 340,138.7 340,137 343.5,130 345,131 344,135 340,141 336.5,147.3 331.3,153.4 325.3,156 321,158.6" fill="#0f0f0f"/>
<polyline points="52.5,311 54.8,309.2 57.3,304.1 58.9,297.7 60,292.5 62.5,291 63.4,285 64.1,281.6 64.8,269.4 65.5,258 66,251.5 68.5,250 69.2,245 70,235.5 71.2,223.3 72.3,214.9 74,214.9 75,219.2 78.7,219.2 78.9,223.3 79.5,235.5 79.7,245 80.5,249 82.1,250.5 83.3,263.3 85.1,275.5 86,281 86.7,288 87.2,293 89.5,301.5 92,305 94.5,309 95.5,312 96.5,316 97.5,320 99.5,323 102,325.3 105,326.6 108,327.5" fill="none" stroke="#939393" stroke-width="3.9" stroke-linejoin="round"/>
<polyline points="51.5,328 58,327.6 62.5,325.5 66.5,320.4 70.3,316.6 74.2,322.2 78,316.2 81.1,321.5 82.6,312.4 85.7,320.7 88,316.5 90.3,311.6 92.5,310.5 94.2,308 95.2,300 95.5,295 97.8,278.9 99.2,272.1 101.2,253.1 102.5,250.5 103.5,247 105,231.3 106.6,215.6 107.6,199 109,199 109.8,215.6 110.5,226 112.5,228.5 113.7,239.2 114.5,250 114.1,261.3 116.5,266 118.8,278.9 120,285 120.6,295 121.4,299 122.2,302.3 124,305 125.2,315.9 126.5,318.5 128.5,320.5 130.5,322.5 133,324.5 135.5,326.3 139,327.2" fill="none" stroke="#0f0f0f" stroke-width="4.0" stroke-linejoin="round"/>
<polyline points="139,327.6 141.5,327.8 146,327.6 148,329.4 261.3,329.5" fill="none" stroke="#0f0f0f" stroke-width="3.6" stroke-linejoin="round"/>
<polygon points="62.9,250 70.9,250 69.6,258 67.8,267 62.9,267" fill="#939393"/>
<polygon points="99.9,247.7 105.3,247.7 104.6,253.1 99.9,253.1" fill="#0f0f0f"/>
<polyline points="306.5,315 307.8,308 308,300 308.5,290 310.5,296 312.5,294 314.9,286.7 315.8,272.6 317.5,262 318.9,255 320.2,250 321.1,240 321,226.5 322.2,226 323.3,234 324.1,224 324.4,221 326.5,221 327.6,223.7 329.5,223.7 330.3,244 332.5,226 334.5,226 335.5,234 337.5,234 338.3,245 339,250 340.5,264.5 343,267.3 344,280 345,290 346.5,300 347.5,305 349.1,312.1 352.1,320.2 356,325.5 362,327.5 370,328.3" fill="none" stroke="#939393" stroke-width="3.9" stroke-linejoin="round"/>
<polyline points="305.5,328 309.9,326.3 314.7,326.6 318.6,325.5 322.5,324.5 326.4,322 332.3,320 336.2,318.5 339.1,316.5 344,314 348,309 351.5,303 352.5,300 354.2,292 356.2,282.2 358.1,270 359.6,260 361.5,251 362.5,246 364,238 366,235 367,231 368.5,222 370.5,215.1 371.3,200 372.3,200 373,215.1 376.7,226.5 378.4,229 379.3,240 380,254 380.6,260 382.6,282.2 384,298.6 385.2,308 386.6,317 388,322 390,325.5 392.5,327.8 394,328.5" fill="none" stroke="#0f0f0f" stroke-width="3.8" stroke-linejoin="round"/>
<polyline points="392,328.8 513.2,328.8" fill="none" stroke="#0f0f0f" stroke-width="3.4" stroke-linejoin="round"/>
<polygon points="305.8,292 310,290 313,293 312.8,300 311,306 309.5,312 308.5,318 308,326 305.8,326" fill="#939393"/>
<polygon points="362.5,244.4 363.5,237.5 366,231.4 369,231.4 368,244.4" fill="#0f0f0f"/>
<polygon points="318.6,322.3 326.4,322.3 326.4,318.9 332.3,318.9 332.3,313.6 336.2,313.6 337.5,315 339.1,310.6 341.5,308.5 344,307.2 346,305.5 348,302 351,298.5 354,295 356,289 357,292 354,305 348,313 344,320.5 339.1,322.3 336.2,324.3 332.3,325.3 326.4,326.2 322,327.5 318.6,328.5" fill="#0f0f0f"/>
<text x="100" y="14.1" class="r" font-weight="bold" font-size="18" fill="#111" stroke="#111" stroke-width="0.5">B-CLL 1</text>
<text x="369.7" y="14.6" class="r" font-weight="bold" font-size="18" fill="#111" stroke="#111" stroke-width="0.5" word-spacing="1.4">B-CLL <tspan font-size="18.6">2</tspan></text>
<text x="161.5" y="71.6" class="r" font-weight="bold" font-size="15.5" fill="#111" stroke="#111" stroke-width="0.4">Control</text>
<text x="416.9" y="77.2" class="r" font-weight="bold" font-size="15.4" fill="#111" stroke="#111" stroke-width="0.4">Control</text>
<text x="161.2" y="250.1" class="r" font-weight="bold" font-size="15" fill="#111" stroke="#111" stroke-width="0.4">Anti-CD23</text>
<text x="412.1" y="252.1" class="r" font-weight="bold" font-size="15" fill="#111" stroke="#111" stroke-width="0.4">Anti-CD23</text>
<text transform="translate(11.4,109.7) rotate(-90)" font-weight="bold" font-size="12" fill="#111" stroke="#111" stroke-width="0.35">Counts</text>
<text transform="translate(12.2,275.7) rotate(-90)" font-weight="bold" font-size="12" fill="#111" stroke="#111" stroke-width="0.35">Counts</text>
<text x="95" y="363" font-weight="bold" font-size="12" fill="#111" stroke="#111" stroke-width="0.35">FL1-Height</text>
<text x="382.4" y="365.8" font-weight="bold" font-size="12" fill="#111" stroke="#111" stroke-width="0.35">FL1-Height</text>
</g>
</svg>
</body></html>
